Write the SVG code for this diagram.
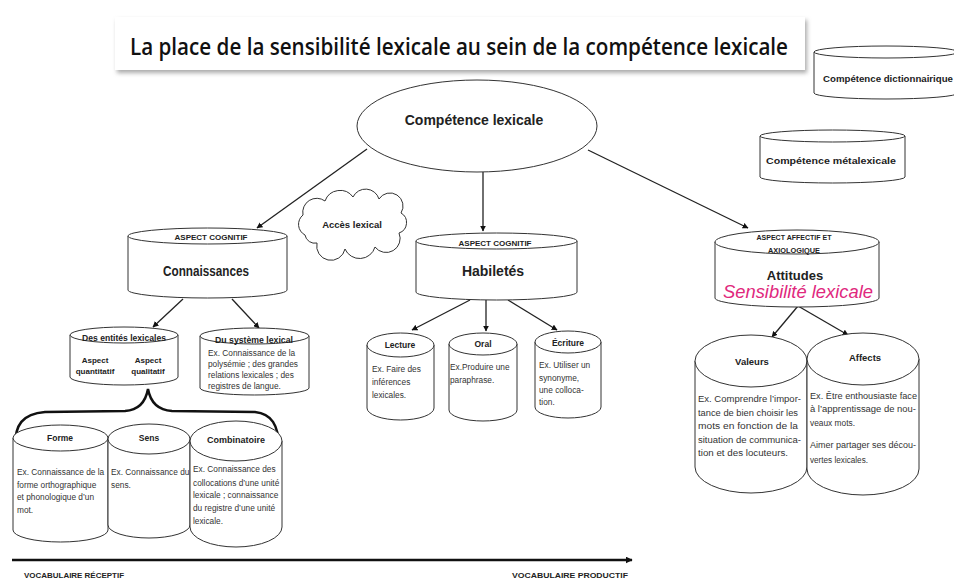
<svg xmlns="http://www.w3.org/2000/svg" width="954" height="581" viewBox="0 0 954 581">
<style>
.n{fill:#fff;stroke:#333;stroke-width:1}
.h{font-family:"Liberation Sans",Arial,sans-serif;font-weight:bold;fill:#222;text-anchor:middle}
.b{font-family:"Liberation Sans",Arial,sans-serif;fill:#333;font-size:8.3px}
.c{stroke:#222;stroke-width:1.3;fill:none}
</style>
<defs>
<marker id="ah" viewBox="0 0 10 10" refX="9" refY="5" markerWidth="6" markerHeight="6" orient="auto" markerUnits="userSpaceOnUse">
<path d="M0,0 L10,5 L0,10 z" fill="#111"/>
</marker>
<marker id="ab" viewBox="0 0 10 10" refX="9" refY="5" markerWidth="7" markerHeight="7" orient="auto" markerUnits="userSpaceOnUse">
<path d="M0,0 L10,5 L0,10 z" fill="#111"/>
</marker>
<filter id="sh" x="-5%" y="-20%" width="110%" height="150%">
<feGaussianBlur stdDeviation="2"/>
</filter>
</defs>
<rect width="954" height="581" fill="#fff"/>

<g id="title">
<rect x="117" y="20" width="690" height="53" fill="#aaa" filter="url(#sh)"/>
<rect x="115" y="17" width="690" height="53" fill="#fff"/>
<text x="130" y="55" font-family="'Open Sans','Liberation Sans',Arial,sans-serif" font-weight="600" font-size="24" fill="#111" textLength="658" lengthAdjust="spacingAndGlyphs">La place de la sensibilité lexicale au sein de la compétence lexicale</text>
</g>

<g id="connectors">
<line class="c" x1="367" y1="149" x2="257" y2="228" marker-end="url(#ah)"/>
<line class="c" x1="483" y1="172" x2="483" y2="231" marker-end="url(#ah)"/>
<line class="c" x1="588" y1="150" x2="748" y2="228" marker-end="url(#ah)"/>
<line class="c" x1="183" y1="299" x2="153" y2="327" marker-end="url(#ah)"/>
<line class="c" x1="232" y1="299" x2="259" y2="328" marker-end="url(#ah)"/>
<line class="c" x1="470" y1="300" x2="412" y2="330" marker-end="url(#ah)"/>
<line class="c" x1="486" y1="300" x2="486" y2="331" marker-end="url(#ah)"/>
<line class="c" x1="508" y1="300" x2="557" y2="330" marker-end="url(#ah)"/>
<line class="c" x1="798" y1="306" x2="772" y2="337" marker-end="url(#ah)"/>
<line class="c" x1="798" y1="306" x2="848" y2="335" marker-end="url(#ah)"/>
<path d="M15,446 C15,425 22,414 45,412 L125,411 C140,410 146,400 148,389 C150,400 156,410 172,411 L255,412 C272,414 278,425 279,446" fill="none" stroke="#111" stroke-width="2.5"/>
<line x1="12" y1="560" x2="632" y2="560" stroke="#111" stroke-width="2.5" marker-end="url(#ab)"/>
</g>

<g id="n-dict">
<path class="n" d="M814,52 V93 A72,6 0 0 0 958,93 V52"/>
<ellipse class="n" cx="886" cy="52" rx="72" ry="6"/>
<text class="h" x="888" y="82" font-size="9" textLength="130" lengthAdjust="spacingAndGlyphs">Compétence dictionnairique</text>
</g>

<g id="n-meta">
<path class="n" d="M760,136 V177 A72.5,6 0 0 0 905,177 V136"/>
<ellipse class="n" cx="832.5" cy="136" rx="72.5" ry="6"/>
<text class="h" x="831" y="164" font-size="9" textLength="130" lengthAdjust="spacingAndGlyphs">Compétence métalexicale</text>
</g>

<g id="n-lex">
<ellipse class="n" cx="477" cy="126" rx="120" ry="46"/>
<text class="h" x="474" y="125" font-size="14">Compétence lexicale</text>
</g>

<g id="n-acces">
<path class="n" d="M305,235 a12,12 0 0 1 -2,-20 a14,14 0 0 1 22,-14 a16,16 0 0 1 28,-4 a14,14 0 0 1 26,2 a13,13 0 0 1 22,14 a11,11 0 0 1 -2,20 a14,14 0 0 1 -24,14 a16,16 0 0 1 -30,2 a14,14 0 0 1 -28,-6 a10,10 0 0 1 -12,-8 z"/>
<text class="h" x="352" y="228" font-size="9.5">Accès lexical</text>
</g>

<g id="n-conn">
<path class="n" d="M128,236 V290 A79.5,8 0 0 0 287,290 V236"/>
<ellipse class="n" cx="207.5" cy="236" rx="79.5" ry="8"/>
<text class="h" x="211" y="240" font-size="8" textLength="73" lengthAdjust="spacingAndGlyphs">ASPECT COGNITIF</text>
<text class="h" x="206" y="276" font-size="15" textLength="86" lengthAdjust="spacingAndGlyphs">Connaissances</text>
</g>

<g id="n-hab">
<path class="n" d="M416,241 V292 A80.5,8 0 0 0 577,292 V241"/>
<ellipse class="n" cx="496.5" cy="241" rx="80.5" ry="8"/>
<text class="h" x="495" y="246" font-size="8" textLength="73" lengthAdjust="spacingAndGlyphs">ASPECT COGNITIF</text>
<text class="h" x="493" y="276" font-size="14">Habiletés</text>
</g>

<g id="n-att">
<path class="n" d="M715,242 V298 A82,9 0 0 0 879,298 V242"/>
<ellipse class="n" cx="797" cy="242" rx="82" ry="12"/>
<text class="h" x="794" y="240" font-size="7.5" textLength="75" lengthAdjust="spacingAndGlyphs">ASPECT AFFECTIF ET</text>
<text class="h" x="794" y="253" font-size="7.5" textLength="52" lengthAdjust="spacingAndGlyphs">AXIOLOGIQUE</text>
<text class="h" x="795" y="280" font-size="13">Attitudes</text>
<text x="798" y="298" font-family="'Liberation Sans',Arial,sans-serif" font-style="italic" font-size="18" fill="#e0287d" text-anchor="middle" textLength="150" lengthAdjust="spacingAndGlyphs">Sensibilité lexicale</text>
</g>

<g id="n-ent">
<path class="n" d="M70,335 V377 A54,8 0 0 0 178,377 V335"/>
<ellipse class="n" cx="124" cy="335" rx="54" ry="8"/>
<text class="h" x="124" y="341" font-size="9" textLength="84" lengthAdjust="spacingAndGlyphs">Des entités lexicales</text>
<text class="h" x="95" y="363" font-size="8">Aspect</text>
<text class="h" x="95" y="374" font-size="8">quantitatif</text>
<text class="h" x="148" y="363" font-size="8">Aspect</text>
<text class="h" x="148" y="374" font-size="8">qualitatif</text>
</g>

<g id="n-sys">
<path class="n" d="M200,336 V388 A54.5,7 0 0 0 309,388 V336"/>
<ellipse class="n" cx="254.5" cy="336" rx="54.5" ry="8"/>
<text class="h" x="254" y="343" font-size="9" textLength="78" lengthAdjust="spacingAndGlyphs">Du système lexical</text>
<text class="b" x="208" y="356">Ex. Connaissance de la</text>
<text class="b" x="208" y="367">polysémie ; des grandes</text>
<text class="b" x="208" y="378">relations lexicales ;  des</text>
<text class="b" x="208" y="389">registres de langue.</text>
</g>

<g id="n-forme">
<path class="n" d="M13,438 V530 A47.5,12 0 0 0 108,530 V438"/>
<ellipse class="n" cx="60.5" cy="438" rx="47.5" ry="13"/>
<text class="h" x="60" y="441" font-size="8.5">Forme</text>
<text class="b" x="17" y="475">Ex. Connaissance de la</text>
<text class="b" x="17" y="488">forme orthographique</text>
<text class="b" x="17" y="500">et phonologique d’un</text>
<text class="b" x="17" y="513">mot.</text>
</g>

<g id="n-sens">
<path class="n" d="M108,439 V525 A41,13 0 0 0 190,525 V439"/>
<ellipse class="n" cx="149" cy="439" rx="41" ry="15"/>
<text class="h" x="149" y="441" font-size="8.5">Sens</text>
<text class="b" x="111" y="475">Ex. Connaissance du</text>
<text class="b" x="111" y="488">sens.</text>
</g>

<g id="n-comb">
<path class="n" d="M190,441 V527 A46,20 0 0 0 282,527 V441"/>
<ellipse class="n" cx="236" cy="441" rx="46" ry="20"/>
<text class="h" x="236" y="443" font-size="9">Combinatoire</text>
<text class="b" x="193" y="472">Ex. Connaissance des</text>
<text class="b" x="193" y="486">collocations d’une unité</text>
<text class="b" x="193" y="498">lexicale ; connaissance</text>
<text class="b" x="193" y="511">du registre d’une unité</text>
<text class="b" x="193" y="524">lexicale.</text>
</g>

<g id="n-lect">
<path class="n" d="M367,345 V408 A33.5,12 0 0 0 434,408 V345"/>
<ellipse class="n" cx="400.5" cy="345" rx="33.5" ry="12"/>
<text class="h" x="400" y="348" font-size="8.5">Lecture</text>
<text class="b" x="372" y="372" font-size="9">Ex. Faire des</text>
<text class="b" x="372" y="385" font-size="9">inférences</text>
<text class="b" x="372" y="398" font-size="9">lexicales.</text>
</g>

<g id="n-oral">
<path class="n" d="M449,344 V410 A34,11 0 0 0 517,410 V344"/>
<ellipse class="n" cx="483" cy="344" rx="34" ry="11"/>
<text class="h" x="483" y="347" font-size="8.5">Oral</text>
<text class="b" x="450" y="370" font-size="9">Ex.Produire une</text>
<text class="b" x="450" y="383" font-size="9">paraphrase.</text>
</g>

<g id="n-ecr">
<path class="n" d="M535,342 V407 A33,11 0 0 0 601,407 V342"/>
<ellipse class="n" cx="568" cy="342" rx="33" ry="11"/>
<text class="h" x="568" y="346" font-size="8.5">Écriture</text>
<text class="b" x="539" y="368" font-size="9">Ex. Utiliser un</text>
<text class="b" x="539" y="381" font-size="9">synonyme,</text>
<text class="b" x="539" y="393" font-size="9">une colloca-</text>
<text class="b" x="539" y="405" font-size="9">tion.</text>
</g>

<g id="n-val">
<path class="n" d="M695,361 V467 A56,26 0 0 0 807,467 V361"/>
<ellipse class="n" cx="751" cy="361" rx="56" ry="26"/>
<text class="h" x="752" y="365" font-size="9.5">Valeurs</text>
<text class="b" x="698" y="402" font-size="9.5" textLength="103" lengthAdjust="spacingAndGlyphs">Ex. Comprendre l’impor-</text>
<text class="b" x="698" y="416" font-size="9.5" textLength="100" lengthAdjust="spacingAndGlyphs">tance de bien choisir les</text>
<text class="b" x="698" y="429" font-size="9.5" textLength="100" lengthAdjust="spacingAndGlyphs">mots  en fonction de la</text>
<text class="b" x="698" y="443" font-size="9.5" textLength="103" lengthAdjust="spacingAndGlyphs">situation de communica-</text>
<text class="b" x="698" y="456" font-size="9.5" textLength="90" lengthAdjust="spacingAndGlyphs">tion et des locuteurs.</text>
</g>

<g id="n-aff">
<path class="n" d="M807,359 V469 A56,26 0 0 0 919,469 V359"/>
<ellipse class="n" cx="863" cy="359" rx="56" ry="26"/>
<text class="h" x="865" y="361" font-size="9.5">Affects</text>
<text class="b" x="810" y="399" font-size="9.5" textLength="107" lengthAdjust="spacingAndGlyphs">Ex. Être enthousiaste face</text>
<text class="b" x="810" y="412" font-size="9.5" textLength="106" lengthAdjust="spacingAndGlyphs">à l’apprentissage de nou-</text>
<text class="b" x="810" y="426" font-size="9.5" textLength="45" lengthAdjust="spacingAndGlyphs">veaux mots.</text>
<text class="b" x="810" y="448" font-size="9.5" textLength="106" lengthAdjust="spacingAndGlyphs">Aimer partager ses décou-</text>
<text class="b" x="810" y="463" font-size="9.5" textLength="58" lengthAdjust="spacingAndGlyphs">vertes lexicales.</text>
</g>

<g id="labels">
<text class="h" x="24" y="578" font-size="8" style="text-anchor:start" textLength="100" lengthAdjust="spacingAndGlyphs">VOCABULAIRE RÉCEPTIF</text>
<text class="h" x="512" y="578" font-size="8" style="text-anchor:start" textLength="116" lengthAdjust="spacingAndGlyphs">VOCABULAIRE PRODUCTIF</text>
</g>
</svg>
